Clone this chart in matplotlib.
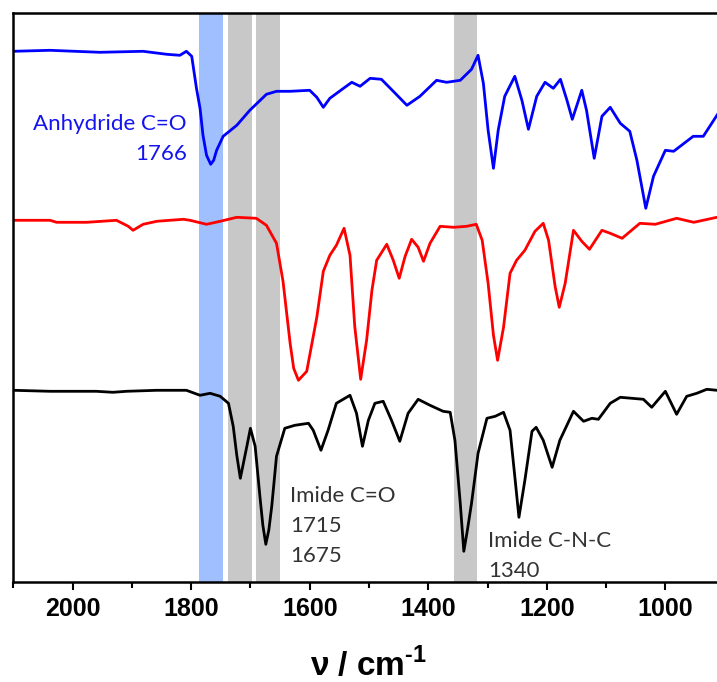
import numpy as np
import matplotlib
matplotlib.use('Agg')
import matplotlib.pyplot as plt
from matplotlib.ticker import MultipleLocator

# wavenumbers (cm-1) and intensities (arbitrary units, offset already applied)
blue_wn = [2100, 2038, 1954, 1881, 1841, 1819, 1808, 1799, 1791, 1785, 1780, 1774, 1767, 1762,
           1757, 1746, 1723, 1701, 1673, 1656, 1633, 1600, 1588, 1577, 1566, 1543, 1529, 1515,
           1498, 1479, 1459, 1436, 1414, 1386, 1369, 1346, 1327, 1316, 1307, 1299, 1290, 1282,
           1271, 1254, 1242, 1231, 1217, 1203, 1189, 1177, 1166, 1157, 1141, 1133, 1120, 1107,
           1093, 1076, 1060, 1048, 1033, 1020, 1000, 986, 953, 936, 913, 900]
blue_val = [531, 532, 530, 531, 528, 527, 531, 526, 494, 474, 447, 427, 418, 422,
            432, 446, 457, 472, 488, 491, 491, 492, 485, 475, 484, 494, 500, 496,
            504, 503, 491, 477, 486, 502, 500, 502, 513, 527, 499, 452, 414, 452,
            486, 506, 482, 453, 486, 500, 494, 503, 482, 463, 492, 472, 424, 466,
            475, 459, 451, 422, 374, 406, 432, 431, 446, 446, 467, 479]

red_wn = [2100, 2038, 2027, 1976, 1926, 1906, 1898, 1881, 1858, 1836,
          1813, 1802, 1774, 1751, 1723, 1690, 1673, 1656, 1645, 1633,
          1627, 1619, 1605, 1588, 1577, 1566, 1555, 1542, 1532, 1524,
          1514, 1504, 1495, 1487, 1470, 1459, 1449, 1439, 1428, 1417,
          1408, 1397, 1380, 1357, 1335, 1319, 1309, 1299, 1290, 1283,
          1273, 1262, 1251, 1237, 1220, 1206, 1197, 1186, 1179, 1169,
          1155, 1141, 1128, 1107, 1093, 1073, 1043, 1017, 981, 952,
          913, 900]
red_val = [362, 362, 360, 360, 362, 356, 352, 358, 361, 362,
           363, 362, 358, 361, 365, 364, 357, 339, 301, 239,
           214, 202, 211, 265, 311, 327, 337, 354, 327, 256,
           203, 242, 292, 322, 338, 322, 304, 326, 343, 335,
           321, 339, 356, 355, 356, 358, 342, 299, 247, 222,
           255, 309, 322, 332, 351, 359, 342, 296, 275, 299,
           352, 341, 333, 352, 349, 344, 359, 358, 364, 360,
           365, 365]

black_wn = [2100, 2038, 1960, 1932, 1909, 1858, 1808, 1785, 1768, 1751,
            1737, 1729, 1723, 1717, 1706, 1700, 1692, 1684, 1679, 1674,
            1669, 1664, 1656, 1642, 1625, 1602, 1594, 1581, 1569, 1555,
            1532, 1521, 1511, 1501, 1490, 1476, 1462, 1448, 1434, 1417,
            1397, 1375, 1363, 1355, 1346, 1340, 1334, 1327, 1316, 1301,
            1287, 1273, 1262, 1254, 1247, 1237, 1225, 1218, 1206, 1191,
            1178, 1155, 1138, 1124, 1113, 1093, 1076, 1037, 1023, 1000,
            981, 964, 947, 930, 913, 900]
black_val = [192, 191, 191, 190, 191, 192, 192, 187, 189, 186,
             179, 156, 127, 104, 136, 154, 136, 86, 57, 38,
             52, 76, 126, 154, 157, 159, 152, 132, 152, 179,
             187, 169, 136, 162, 179, 181, 162, 141, 169, 183,
             177, 171, 170, 142, 79, 31, 52, 79, 129, 164,
             166, 170, 152, 106, 65, 102, 151, 155, 142, 115,
             142, 171, 161, 164, 163, 179, 185, 183, 175, 191,
             168, 186, 189, 193, 192, 192]

# highlighted bands (cm-1)
blue_band = (1786, 1746)
gray_bands = [(1737, 1697), (1691, 1650), (1357, 1317)]

plt.rcParams['mathtext.fontset'] = 'custom'
plt.rcParams['mathtext.rm'] = 'Liberation Sans:bold'
plt.rcParams['mathtext.bf'] = 'Liberation Sans:bold'

fig = plt.figure(figsize=(7.17, 6.82), dpi=100)
ax = fig.add_axes([0.01855, 0.1462, 0.9921, 0.8343])

ax.axvspan(*blue_band, color='#9FBFFF', lw=0, zorder=0)
for b in gray_bands:
    ax.axvspan(*b, color='#C8C8C8', lw=0, zorder=0)

line_kw = dict(lw=2.0, zorder=2, solid_joinstyle='round', solid_capstyle='round')
ax.plot(blue_wn, blue_val, color='#0000FF', **line_kw)
ax.plot(red_wn, red_val, color='#FF0000', **line_kw)
ax.plot(black_wn, black_val, color='#000000', **line_kw)

ax.set_xlim(2100, 900)
ax.set_ylim(0, 569)
ax.set_yticks([])
ax.xaxis.set_major_locator(MultipleLocator(200))
ax.xaxis.set_minor_locator(MultipleLocator(100))
ax.tick_params(axis='x', which='major', direction='out', length=5.5, width=1.5, pad=5)
ax.tick_params(axis='x', which='minor', direction='out', length=4, width=1.5)
for lab in ax.get_xticklabels():
    lab.set_fontfamily('Liberation Sans')
    lab.set_fontweight('bold')
    lab.set_fontsize(18)
for s in ax.spines.values():
    s.set_linewidth(1.8)

ax.set_xlabel(r'ν / cm$^{\text{-1}}$', fontsize=24, fontweight='bold',
              fontfamily='Liberation Sans', labelpad=19)

note = dict(family='Lato', fontsize=16, va='baseline')
ax.text(1807, 452, 'Anhydride C=O', color='#1414F0', ha='right', **note)
ax.text(1807, 422, '1766', color='#1414F0', ha='right', **note)
ax.text(1633, 80, 'Imide C=O', color='#333333', ha='left', **note)
ax.text(1633, 50, '1715', color='#333333', ha='left', **note)
ax.text(1633, 20, '1675', color='#333333', ha='left', **note)
ax.text(1299, 35, 'Imide C-N-C', color='#333333', ha='left', **note)
ax.text(1299, 5, '1340', color='#333333', ha='left', **note)

fig.savefig('out.png', dpi=100)
